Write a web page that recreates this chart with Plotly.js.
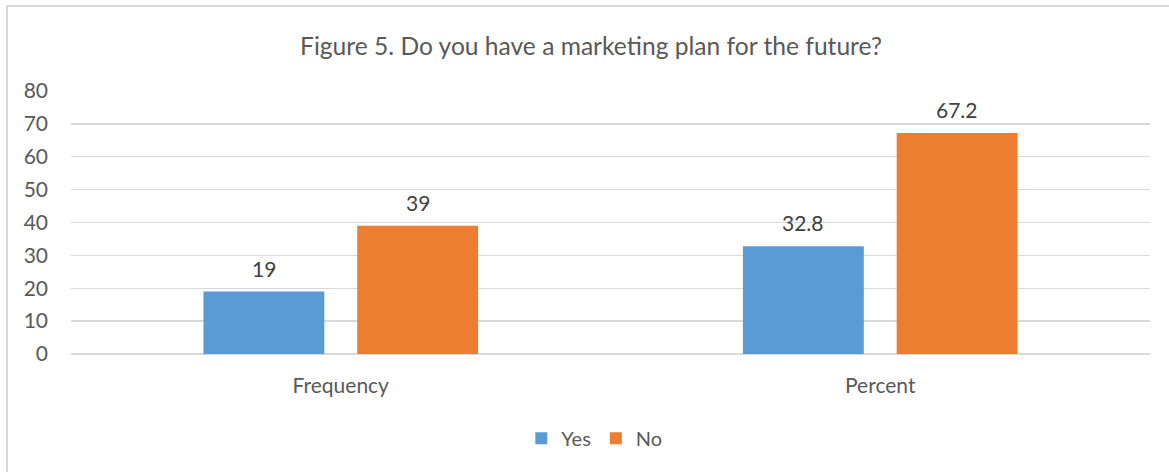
<!DOCTYPE html>
<html>
<head>
<meta charset="utf-8">
<script src="https://cdn.plot.ly/plotly-3.0.1.min.js"></script>
<style>
  html, body { margin: 0; padding: 0; background: #fff; }
  #wrap { position: relative; width: 1169px; height: 472px; overflow: hidden; }
  #chart { position: absolute; left: 0; top: 0; width: 1169px; height: 472px; }
  #frame { position: absolute; left: 6px; top: 5px; width: 1200px; height: 500px;
           border-left: 2px solid #d9d9d9; border-top: 2px solid #d9d9d9; pointer-events: none; }
</style>
</head>
<body>
<div id="wrap">
  <div id="chart"></div>
  <div id="frame"></div>
</div>
<script>
const categories = ["Frequency", "Percent"];
const yesValues = [19, 32.8];
const noValues = [39, 67.2];
const yesLabels = ["19", "32.8"];
const noLabels = ["39", "67.2"];
const yTicks = [0, 10, 20, 30, 40, 50, 60, 70, 80];

const FONT = "Lato, 'Open Sans', sans-serif";

const traces = [
  { type: "bar", name: "Yes", x: categories, y: yesValues,
    marker: { color: "#5B9BD5" }, hoverinfo: "skip" },
  { type: "bar", name: "No", x: categories, y: noValues,
    marker: { color: "#ED7D31" }, hoverinfo: "skip" }
];

const annotations = [];
categories.forEach((c, i) => {
  annotations.push({ x: c, y: yesValues[i], text: yesLabels[i], xref: "x", yref: "y",
    showarrow: false, xanchor: "center", yanchor: "bottom", xshift: -77, yshift: 9,
    font: { family: FONT, size: 21, color: "#404040" } });
  annotations.push({ x: c, y: noValues[i], text: noLabels[i], xref: "x", yref: "y",
    showarrow: false, xanchor: "center", yanchor: "bottom", xshift: 77, yshift: 9,
    font: { family: FONT, size: 21, color: "#404040" } });
});

const layout = {
  width: 1169, height: 472,
  margin: { l: 71, r: 19, t: 91, b: 118 },
  paper_bgcolor: "#ffffff", plot_bgcolor: "#ffffff",
  font: { family: FONT, size: 21, color: "#595959" },
  title: { text: "Figure 5. Do you have a marketing plan for the future?",
    font: { family: FONT, size: 24.6, color: "#595959" },
    x: 591 / 1169, xanchor: "center", xref: "container", y: 1 - 46 / 472, yref: "container", yanchor: "middle" },
  barmode: "group", bargap: 0.43, bargroupgap: 0.214,
  xaxis: { type: "category", showgrid: false, zeroline: false, showline: false,
    ticks: "", ticklabelstandoff: 17, tickfont: { family: FONT, size: 21, color: "#595959" } },
  yaxis: { range: [0, 80], tickvals: yTicks, ticktext: yTicks.map(String),
    showgrid: true, gridcolor: "#d9d9d9", gridwidth: 1.3, zeroline: true, zerolinecolor: "#d9d9d9", zerolinewidth: 1.3,
    showline: false, ticks: "", ticklabelstandoff: 22,
    tickfont: { family: FONT, size: 21, color: "#595959" } },
  legend: { orientation: "h", x: 0.485, xanchor: "center", y: -0.32, yanchor: "middle",
    font: { family: FONT, size: 20, color: "#595959" }, itemwidth: 30 },
  annotations: annotations,
  showlegend: true
};

Plotly.newPlot("chart", traces, layout, { displayModeBar: false, staticPlot: true });
</script>
</body>
</html>
